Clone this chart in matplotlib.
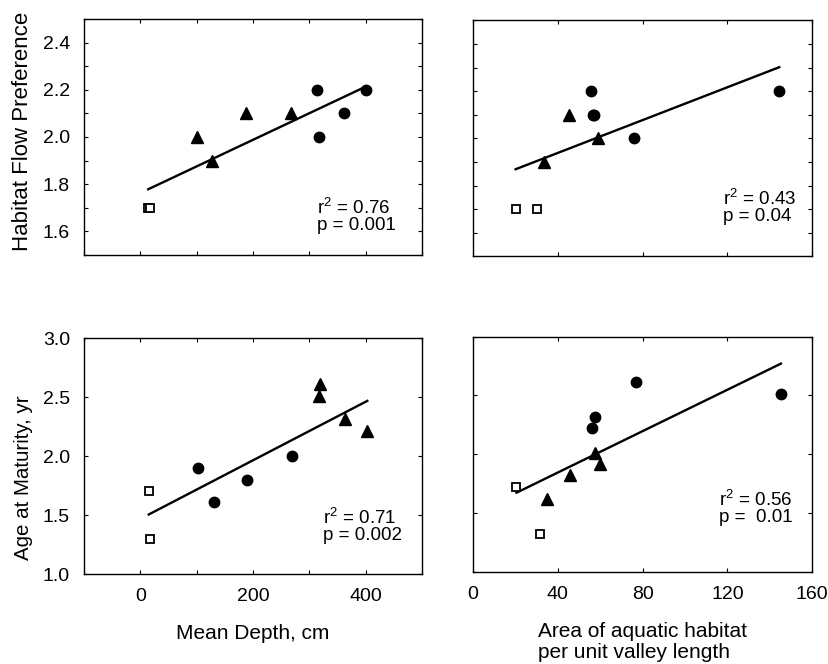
import numpy as np
import matplotlib
matplotlib.use('Agg')
import matplotlib.pyplot as plt
from matplotlib.ticker import MultipleLocator

plt.rcParams['font.family'] = ['Liberation Sans', 'DejaVu Sans']

# --- data ---
# top left: mean depth (cm) vs habitat flow preference
tl_sq_x = [14, 17]
tl_sq_y = [1.7, 1.7]
tl_tri_x = [100, 128, 188, 267]
tl_tri_y = [2.0, 1.9, 2.1, 2.1]
tl_cir_x = [314, 317, 361, 401]
tl_cir_y = [2.2, 2.0, 2.1, 2.2]

# top right: area of aquatic habitat vs habitat flow preference
tr_sq_x = [20.1, 30.4]
tr_sq_y = [1.7, 1.7]
tr_tri_x = [33.6, 45.2, 59.0]
tr_tri_y = [1.9, 2.1, 2.0]
tr_cir_x = [55.8, 56.6, 57.0, 75.9, 144.5]
tr_cir_y = [2.2, 2.1, 2.1, 2.0, 2.2]

# bottom left: mean depth (cm) vs age at maturity
bl_sq_x = [15, 18]
bl_sq_y = [1.7, 1.3]
bl_cir_x = [103, 130, 189, 269]
bl_cir_y = [1.9, 1.61, 1.8, 2.0]
bl_tri_x = [317, 319, 363, 403]
bl_tri_y = [2.51, 2.61, 2.31, 2.21]

# bottom right: area of aquatic habitat vs age at maturity
br_sq_x = [20.5, 31.5]
br_sq_y = [1.72, 1.32]
br_tri_x = [34.7, 45.6, 57.4, 59.8]
br_tri_y = [1.62, 1.82, 2.01, 1.92]
br_cir_x = [56.3, 57.7, 76.7, 145.3]
br_cir_y = [2.22, 2.32, 2.61, 2.51]

stats = {
    'tl': ('0.76', '0.001'),
    'tr': ('0.43', '0.04'),
    'bl': ('0.71', '0.002'),
    'br': ('0.56', ' 0.01'),
}


def draw_panel(ax, sq, tri, cir, stat, txt_xy):
    ax.plot(sq[0], sq[1], 's', ms=6, mfc='white', mec='black', mew=1.3,
            ls='none', zorder=4)
    ax.plot(tri[0], tri[1], '^', ms=8.5, color='black', ls='none', zorder=3)
    ax.plot(cir[0], cir[1], 'o', ms=7.5, color='black', ls='none', zorder=4)

    # least squares line through all points
    allx = np.concatenate([sq[0], tri[0], cir[0]])
    ally = np.concatenate([sq[1], tri[1], cir[1]])
    slope, icpt = np.polyfit(allx, ally, 1)
    xs = np.array([allx.min(), allx.max()])
    ax.plot(xs, slope * xs + icpt, color='black', lw=1.7, zorder=2)

    # r^2 and p in one text block (lines sit close together like the original)
    tx, ty = txt_xy
    ax.text(tx, ty, r'r$^{\mathregular{2}}$ = ' + stat[0] + '\np = ' + stat[1],
            transform=ax.transAxes, fontsize=13.5, va='center', ha='left',
            linespacing=0.95)

    ax.tick_params(which='both', direction='in', top=True, right=True,
                   length=3, width=0.8, labelsize=14, pad=10)
    for sp in ax.spines.values():
        sp.set_linewidth(1.0)


fig = plt.figure(figsize=(8.29, 6.64), dpi=100)
ax_tl = fig.add_axes([0.1013, 0.616, 0.4077, 0.3554])
ax_tr = fig.add_axes([0.5706, 0.614, 0.4090, 0.3554])
ax_bl = fig.add_axes([0.1013, 0.1355, 0.4077, 0.3554])
ax_br = fig.add_axes([0.5706, 0.139, 0.4090, 0.3540])

draw_panel(ax_tl, (tl_sq_x, tl_sq_y), (tl_tri_x, tl_tri_y), (tl_cir_x, tl_cir_y),
           stats['tl'], (0.69, 0.168))
draw_panel(ax_tr, (tr_sq_x, tr_sq_y), (tr_tri_x, tr_tri_y), (tr_cir_x, tr_cir_y),
           stats['tr'], (0.737, 0.212))
draw_panel(ax_bl, (bl_sq_x, bl_sq_y), (bl_tri_x, bl_tri_y), (bl_cir_x, bl_cir_y),
           stats['bl'], (0.707, 0.205))
draw_panel(ax_br, (br_sq_x, br_sq_y), (br_tri_x, br_tri_y), (br_cir_x, br_cir_y),
           stats['br'], (0.726, 0.273))

# axis ranges and ticks
for ax in (ax_tl, ax_bl):
    ax.set_xlim(-100, 500)
    ax.set_xticks([0, 200, 400])
    ax.xaxis.set_minor_locator(MultipleLocator(100))
for ax in (ax_tr, ax_br):
    ax.set_xlim(0, 160)
    ax.set_xticks([0, 40, 80, 120, 160])
for ax in (ax_tl, ax_tr):
    ax.set_ylim(1.5, 2.5)
    ax.set_yticks([1.6, 1.8, 2.0, 2.2, 2.4])
    ax.yaxis.set_minor_locator(MultipleLocator(0.1))
    ax.tick_params(labelbottom=False)
for ax in (ax_bl, ax_br):
    ax.set_ylim(1.0, 3.0)
    ax.set_yticks([1.0, 1.5, 2.0, 2.5, 3.0])
for ax in (ax_tr, ax_br):
    ax.tick_params(labelleft=False)

ax_tl.set_ylabel('Habitat Flow Preference', fontsize=16)
ax_tl.yaxis.set_label_coords(-0.152, 0.525)
ax_bl.set_ylabel('Age at Maturity, yr', fontsize=14.8)
ax_bl.yaxis.set_label_coords(-0.152, 0.41)
ax_bl.set_xlabel('Mean Depth, cm', fontsize=15, labelpad=14)
ax_br.set_xlabel('Area of aquatic habitat\nper unit valley length', fontsize=15,
                 labelpad=14, multialignment='left', linespacing=1.1)

fig.savefig('out.png', dpi=100)
